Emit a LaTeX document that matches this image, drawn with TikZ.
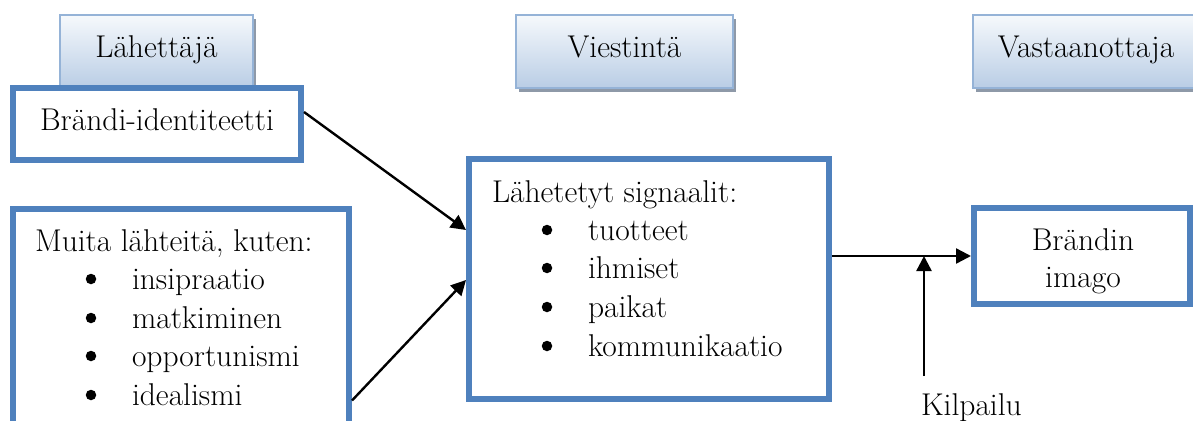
\documentclass[tikz,border=0pt]{standalone}
\usetikzlibrary{arrows.meta,shadows}
\definecolor{boxblue}{HTML}{4F81BD}
\definecolor{hdrborder}{HTML}{95B3D7}
\definecolor{hdrtop}{HTML}{F6F9FC}
\definecolor{hdrbot}{HTML}{B9CDE5}
\definecolor{shadowgray}{HTML}{8E99A8}
\begin{document}
\begin{tikzpicture}[x=1pt,y=-1pt,
  every node/.style={font=\rmfamily\fontsize{31.5}{38.5}\selectfont, inner sep=0pt, outer sep=0pt},
  hdr/.style={draw=hdrborder, line width=2pt, top color=hdrtop, bottom color=hdrbot,
    text height=18pt, text depth=7pt,
    drop shadow={shadow xshift=3pt, shadow yshift=-4pt, fill=shadowgray, opacity=1}},
  bluebox/.style={draw=boxblue, line width=6pt, fill=white, outer sep=3pt},
  arr/.style={line width=2.4pt, -{Triangle[length=15pt,width=15pt]}},
  txt/.style={anchor=base west},
  bul/.style={circle, fill=black, minimum size=10.5pt}
]
\useasboundingbox (0,0) rectangle (1193,420);
\clip (0,0) rectangle (1193,420);

% header boxes
\node[hdr, minimum width=193pt, minimum height=73pt] (h1) at (156.5,51.5) {Lähettäjä};
\node[hdr, minimum width=217pt, minimum height=73pt] (h2) at (624.5,51.5) {Viestintä};
\node[hdr, minimum width=226pt, minimum height=73pt] (h3) at (1086,51.5) {Vastaanottaja};

% source boxes
\node[bluebox, minimum width=288pt, minimum height=72pt] (brand) at (157,124) {};
\node[anchor=base] (brandt) at (157,130) {Brändi-identiteetti};

\node[bluebox, minimum width=336pt, minimum height=224pt] (muita) at (181,320.5) {};
\node[txt] (m0) at (35,251) {Muita lähteitä, kuten:};
\node[bul] (mb1) at (91,279) {};
\node[txt] (m1) at (132,289) {insipraatio};
\node[bul] (mb2) at (91,318) {};
\node[txt] (m2) at (132,328) {matkiminen};
\node[bul] (mb3) at (91,356) {};
\node[txt] (m3) at (132,366) {opportunismi};
\node[bul] (mb4) at (91,395) {};
\node[txt] (m4) at (132,405) {idealismi};

% signals box
\node[bluebox, minimum width=360pt, minimum height=240pt] (sig) at (649,279) {};
\node[txt] (s0) at (492,202) {Lähetetyt signaalit:};
\node[bul] (sb1) at (547,230) {};
\node[txt] (s1) at (588,240) {tuotteet};
\node[bul] (sb2) at (547,268) {};
\node[txt] (s2) at (588,278) {ihmiset};
\node[bul] (sb3) at (547,307) {};
\node[txt] (s3) at (588,317) {paikat};
\node[bul] (sb4) at (547,346) {};
\node[txt] (s4) at (588,356) {kommunikaatio};

% image box
\node[bluebox, minimum width=216pt, minimum height=96pt] (imago) at (1082,256) {};
\node[anchor=base] (imt1) at (1083,250) {Brändin};
\node[anchor=base] (imt2) at (1083,287) {imago};

% competition
\coordinate (kil) at (924,376);
\node[txt] (kilt) at (921,415) {Kilpailu};

% connectors
\draw[arr] ([yshift=12pt]brand.east) -- ([yshift=49pt]sig.west);
\draw[arr] ([yshift=-80pt]muita.east) -- ([yshift=-1pt]sig.west);
\draw[arr] (sig.east |- imago.west) -- (imago.west);
\draw[arr] (kil) -- (kil |- imago.west);
\end{tikzpicture}
\end{document}
